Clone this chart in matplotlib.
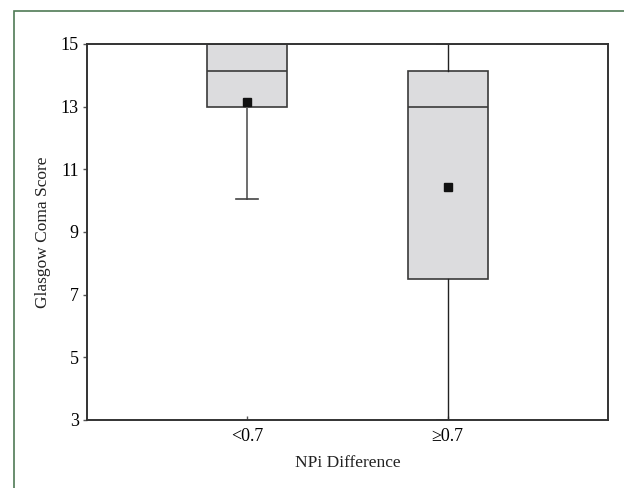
import matplotlib.pyplot as plt
from matplotlib.patches import Rectangle

plt.rcParams['font.family'] = ['Liberation Serif', 'DejaVu Serif']

groups = ['<0.7', '≥0.7']
q1 = [13.0, 7.5]
medians = [14.15, 13.0]
q3 = [15.0, 14.15]
whisker_low = [10.05, 3.0]
whisker_high = [15.0, 15.0]
means = [13.15, 10.43]

stats = []
for i in range(len(groups)):
    stats.append({'label': groups[i], 'q1': q1[i], 'med': medians[i], 'q3': q3[i],
                  'whislo': whisker_low[i], 'whishi': whisker_high[i], 'mean': means[i]})

fig = plt.figure(figsize=(6.24, 4.88), dpi=100)
ax = fig.add_axes([87 / 624, 68 / 488, 521 / 624, 376 / 488])

edge = '#3a3a3a'
bp = ax.bxp(stats, positions=[1, 2], widths=0.4, patch_artist=True, showmeans=True,
            showfliers=False, capwidths=0.11,
            boxprops=dict(facecolor='#dcdcde', edgecolor=edge, linewidth=1.2),
            medianprops=dict(color=edge, linewidth=1.2),
            whiskerprops=dict(color='#222222', linewidth=1.0),
            capprops=dict(color='#444444', linewidth=1.2),
            meanprops=dict(marker='s', markerfacecolor='#111111', markeredgecolor='#111111',
                           markersize=5.5))
# the short-group whisker looks lighter in the source
for w in bp['whiskers'][:2]:
    w.set_color('#6e6e6e')
    w.set_linewidth(1.4)

ax.set_xlim(0.2, 2.8)
ax.set_ylim(3, 15)
ax.set_yticks([3, 5, 7, 9, 11, 13, 15])
ax.set_xticks([1, 2])
ax.set_xticklabels(groups)
ax.tick_params(axis='y', direction='out', length=3, width=1, color='#555555',
               labelsize=13, pad=3)
ax.tick_params(axis='x', direction='in', length=3, width=1, color='#555555',
               labelsize=13, pad=6)
for s in ax.spines.values():
    s.set_color('#333333')
    s.set_linewidth(1.4)

ax.set_xlabel('NPi Difference', fontsize=12.5, labelpad=7, color='#222222')
ax.set_ylabel('Glasgow Coma Score', fontsize=12.5, labelpad=7, color='#222222')

# outer frame: only left and top edges visible
fig.patches.append(Rectangle((13.5 / 624, -0.1), 1.2, 1.1 - 11 / 488,
                             transform=fig.transFigure, fill=False,
                             edgecolor='#4f7a55', linewidth=1.2))

fig.savefig('out.png', dpi=100)
